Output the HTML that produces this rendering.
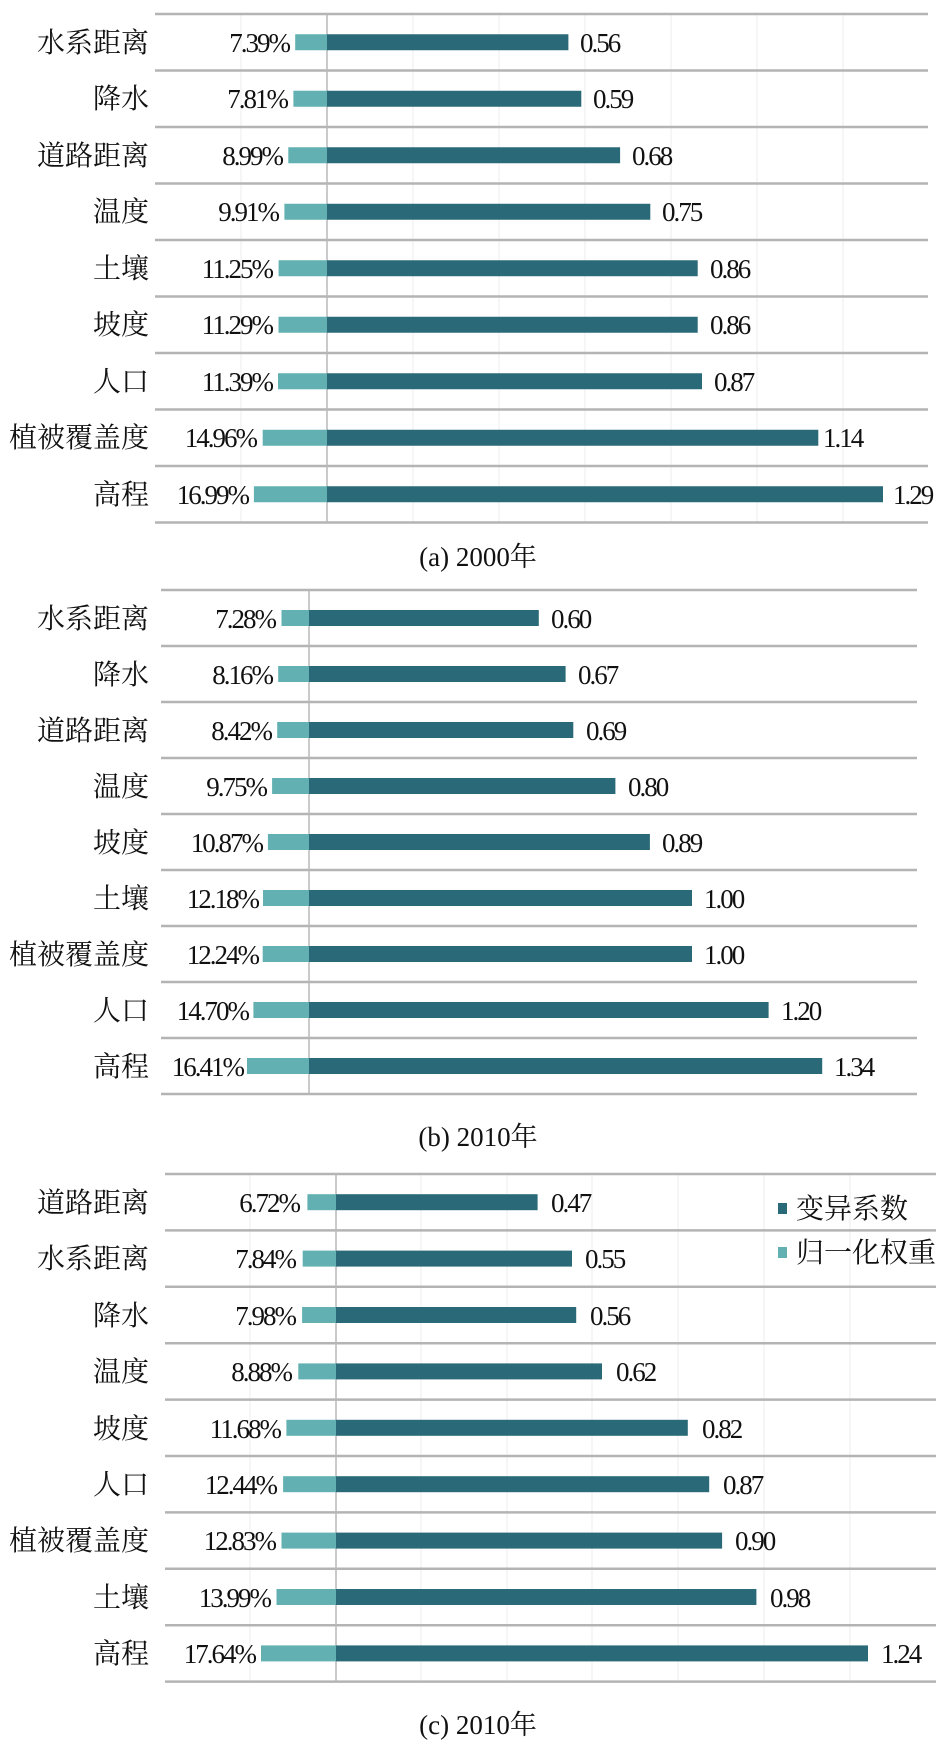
<!DOCTYPE html>
<html><head><meta charset="utf-8"><style>
html,body{margin:0;padding:0;background:#fff}
svg{display:block}
text{font-family:"Liberation Serif","Noto Serif CJK SC",serif;font-size:27px;fill:#111}
.c{font-family:"Liberation Serif","Noto Serif CJK SC",serif;font-size:28px;text-anchor:end}
.p{text-anchor:end;letter-spacing:-2px}
.v{letter-spacing:-2px}
.g{stroke:#b4b4b4;stroke-width:2.5}
.vg{stroke:#ececec;stroke-width:1}
.ax{stroke:#b8b8b8;stroke-width:1.5}
.d{fill:#2a6a78}.l{fill:#62b0b1}
.cap{font-size:27px;text-anchor:middle}
</style></head><body>
<svg width="945" height="1746" viewBox="0 0 945 1746" xmlns="http://www.w3.org/2000/svg">
<!-- Chart A -->
<g>
<line class="vg" x1="241" y1="14" x2="241" y2="522"/><line class="vg" x1="413" y1="14" x2="413" y2="522"/><line class="vg" x1="499" y1="14" x2="499" y2="522"/><line class="vg" x1="585" y1="14" x2="585" y2="522"/><line class="vg" x1="671" y1="14" x2="671" y2="522"/><line class="vg" x1="757" y1="14" x2="757" y2="522"/><line class="vg" x1="843" y1="14" x2="843" y2="522"/>
<line class="g" x1="155" y1="14" x2="928" y2="14"/><line class="g" x1="155" y1="70.5" x2="928" y2="70.5"/><line class="g" x1="155" y1="127" x2="928" y2="127"/><line class="g" x1="155" y1="183.5" x2="928" y2="183.5"/><line class="g" x1="155" y1="240" x2="928" y2="240"/><line class="g" x1="155" y1="296.5" x2="928" y2="296.5"/><line class="g" x1="155" y1="353" x2="928" y2="353"/><line class="g" x1="155" y1="409.5" x2="928" y2="409.5"/><line class="g" x1="155" y1="466" x2="928" y2="466"/><line class="g" x1="155" y1="522.5" x2="928" y2="522.5"/>
<line class="ax" x1="327" y1="14" x2="327" y2="522"/>
<rect class="l" x="295.2" y="34.25" width="31.8" height="16"/><rect class="d" x="327" y="34.25" width="241.4" height="16"/><text class="c" x="149" y="52">水系距离</text><text class="p" x="289" y="52">7.39%</text><text class="v" x="580" y="52">0.56</text>
<rect class="l" x="293.4" y="90.75" width="33.6" height="16"/><rect class="d" x="327" y="90.75" width="254.3" height="16"/><text class="c" x="149" y="108">降水</text><text class="p" x="287" y="108">7.81%</text><text class="v" x="593" y="108">0.59</text>
<rect class="l" x="288.3" y="147.25" width="38.7" height="16"/><rect class="d" x="327" y="147.25" width="293.1" height="16"/><text class="c" x="149" y="165">道路距离</text><text class="p" x="282" y="165">8.99%</text><text class="v" x="632" y="165">0.68</text>
<rect class="l" x="284.4" y="203.75" width="42.6" height="16"/><rect class="d" x="327" y="203.75" width="323.3" height="16"/><text class="c" x="149" y="221">温度</text><text class="p" x="278" y="221">9.91%</text><text class="v" x="662" y="221">0.75</text>
<rect class="l" x="278.6" y="260.25" width="48.4" height="16"/><rect class="d" x="327" y="260.25" width="370.7" height="16"/><text class="c" x="149" y="278">土壤</text><text class="p" x="272" y="278">11.25%</text><text class="v" x="710" y="278">0.86</text>
<rect class="l" x="278.5" y="316.75" width="48.5" height="16"/><rect class="d" x="327" y="316.75" width="370.7" height="16"/><text class="c" x="149" y="334">坡度</text><text class="p" x="272" y="334">11.29%</text><text class="v" x="710" y="334">0.86</text>
<rect class="l" x="278" y="373.25" width="49" height="16"/><rect class="d" x="327" y="373.25" width="375" height="16"/><text class="c" x="149" y="391">人口</text><text class="p" x="272" y="391">11.39%</text><text class="v" x="714" y="391">0.87</text>
<rect class="l" x="262.7" y="429.75" width="64.3" height="16"/><rect class="d" x="327" y="429.75" width="491.3" height="16"/><text class="c" x="149" y="447">植被覆盖度</text><text class="p" x="256" y="447">14.96%</text><text class="v" x="823" y="447">1.14</text>
<rect class="l" x="253.9" y="486.25" width="73.1" height="16"/><rect class="d" x="327" y="486.25" width="556" height="16"/><text class="c" x="149" y="504">高程</text><text class="p" x="248" y="504">16.99%</text><text class="v" x="893" y="504">1.29</text>
<text class="cap" x="478" y="566">(a) 2000年</text>
</g>
<!-- Chart B -->
<g>
<line class="g" x1="161" y1="590" x2="917" y2="590"/><line class="g" x1="161" y1="646" x2="917" y2="646"/><line class="g" x1="161" y1="702" x2="917" y2="702"/><line class="g" x1="161" y1="758" x2="917" y2="758"/><line class="g" x1="161" y1="814" x2="917" y2="814"/><line class="g" x1="161" y1="870" x2="917" y2="870"/><line class="g" x1="161" y1="926" x2="917" y2="926"/><line class="g" x1="161" y1="982" x2="917" y2="982"/><line class="g" x1="161" y1="1038" x2="917" y2="1038"/><line class="g" x1="161" y1="1094" x2="917" y2="1094"/>
<line class="ax" x1="309" y1="590" x2="309" y2="1094"/>
<rect class="l" x="281.5" y="610" width="27.5" height="16"/><rect class="d" x="309" y="610" width="229.8" height="16"/><text class="c" x="149" y="628">水系距离</text><text class="p" x="275" y="628">7.28%</text><text class="v" x="551" y="628">0.60</text>
<rect class="l" x="278.2" y="666" width="30.8" height="16"/><rect class="d" x="309" y="666" width="256.6" height="16"/><text class="c" x="149" y="684">降水</text><text class="p" x="272" y="684">8.16%</text><text class="v" x="578" y="684">0.67</text>
<rect class="l" x="277.2" y="722" width="31.8" height="16"/><rect class="d" x="309" y="722" width="264.3" height="16"/><text class="c" x="149" y="740">道路距离</text><text class="p" x="271" y="740">8.42%</text><text class="v" x="586" y="740">0.69</text>
<rect class="l" x="272.1" y="778" width="36.9" height="16"/><rect class="d" x="309" y="778" width="306.4" height="16"/><text class="c" x="149" y="796">温度</text><text class="p" x="266" y="796">9.75%</text><text class="v" x="628" y="796">0.80</text>
<rect class="l" x="267.9" y="834" width="41.1" height="16"/><rect class="d" x="309" y="834" width="340.9" height="16"/><text class="c" x="149" y="852">坡度</text><text class="p" x="262" y="852">10.87%</text><text class="v" x="662" y="852">0.89</text>
<rect class="l" x="263" y="890" width="46" height="16"/><rect class="d" x="309" y="890" width="383" height="16"/><text class="c" x="149" y="908">土壤</text><text class="p" x="258" y="908">12.18%</text><text class="v" x="704" y="908">1.00</text>
<rect class="l" x="262.7" y="946" width="46.3" height="16"/><rect class="d" x="309" y="946" width="383" height="16"/><text class="c" x="149" y="964">植被覆盖度</text><text class="p" x="258" y="964">12.24%</text><text class="v" x="704" y="964">1.00</text>
<rect class="l" x="253.4" y="1002" width="55.6" height="16"/><rect class="d" x="309" y="1002" width="459.6" height="16"/><text class="c" x="149" y="1020">人口</text><text class="p" x="248" y="1020">14.70%</text><text class="v" x="781" y="1020">1.20</text>
<rect class="l" x="247" y="1058" width="62" height="16"/><rect class="d" x="309" y="1058" width="513.2" height="16"/><text class="c" x="149" y="1076">高程</text><text class="p" x="243" y="1076">16.41%</text><text class="v" x="834" y="1076">1.34</text>
<text class="cap" x="478" y="1146">(b) 2010年</text>
</g>
<!-- Chart C -->
<g>
<line class="vg" x1="250" y1="1174" x2="250" y2="1682"/><line class="vg" x1="421" y1="1174" x2="421" y2="1682"/><line class="vg" x1="507" y1="1174" x2="507" y2="1682"/><line class="vg" x1="592" y1="1174" x2="592" y2="1682"/><line class="vg" x1="678" y1="1174" x2="678" y2="1682"/><line class="vg" x1="764" y1="1174" x2="764" y2="1682"/><line class="vg" x1="850" y1="1174" x2="850" y2="1682"/>
<line class="g" x1="165" y1="1174" x2="936" y2="1174"/><line class="g" x1="165" y1="1230.4" x2="936" y2="1230.4"/><line class="g" x1="165" y1="1286.8" x2="936" y2="1286.8"/><line class="g" x1="165" y1="1343.2" x2="936" y2="1343.2"/><line class="g" x1="165" y1="1399.6" x2="936" y2="1399.6"/><line class="g" x1="165" y1="1456" x2="936" y2="1456"/><line class="g" x1="165" y1="1512.4" x2="936" y2="1512.4"/><line class="g" x1="165" y1="1568.8" x2="936" y2="1568.8"/><line class="g" x1="165" y1="1625.2" x2="936" y2="1625.2"/><line class="g" x1="165" y1="1681.6" x2="936" y2="1681.6"/>
<line class="ax" x1="336" y1="1174" x2="336" y2="1682"/>
<rect class="l" x="307.4" y="1194.2" width="28.6" height="16"/><rect class="d" x="336" y="1194.2" width="201.6" height="16"/><text class="c" x="149" y="1212">道路距离</text><text class="p" x="299" y="1212">6.72%</text><text class="v" x="551" y="1212">0.47</text>
<rect class="l" x="302.7" y="1250.6" width="33.3" height="16"/><rect class="d" x="336" y="1250.6" width="236" height="16"/><text class="c" x="149" y="1268">水系距离</text><text class="p" x="295" y="1268">7.84%</text><text class="v" x="585" y="1268">0.55</text>
<rect class="l" x="302.1" y="1307" width="33.9" height="16"/><rect class="d" x="336" y="1307" width="240.2" height="16"/><text class="c" x="149" y="1325">降水</text><text class="p" x="295" y="1325">7.98%</text><text class="v" x="590" y="1325">0.56</text>
<rect class="l" x="298.3" y="1363.4" width="37.7" height="16"/><rect class="d" x="336" y="1363.4" width="266" height="16"/><text class="c" x="149" y="1381">温度</text><text class="p" x="291" y="1381">8.88%</text><text class="v" x="616" y="1381">0.62</text>
<rect class="l" x="286.4" y="1419.8" width="49.6" height="16"/><rect class="d" x="336" y="1419.8" width="351.8" height="16"/><text class="c" x="149" y="1438">坡度</text><text class="p" x="280" y="1438">11.68%</text><text class="v" x="702" y="1438">0.82</text>
<rect class="l" x="283.1" y="1476.2" width="52.9" height="16"/><rect class="d" x="336" y="1476.2" width="373.2" height="16"/><text class="c" x="149" y="1494">人口</text><text class="p" x="276" y="1494">12.44%</text><text class="v" x="723" y="1494">0.87</text>
<rect class="l" x="281.5" y="1532.6" width="54.5" height="16"/><rect class="d" x="336" y="1532.6" width="386.1" height="16"/><text class="c" x="149" y="1550">植被覆盖度</text><text class="p" x="275" y="1550">12.83%</text><text class="v" x="735" y="1550">0.90</text>
<rect class="l" x="276.5" y="1589" width="59.5" height="16"/><rect class="d" x="336" y="1589" width="420.4" height="16"/><text class="c" x="149" y="1607">土壤</text><text class="p" x="270" y="1607">13.99%</text><text class="v" x="770" y="1607">0.98</text>
<rect class="l" x="261" y="1645.4" width="75" height="16"/><rect class="d" x="336" y="1645.4" width="532" height="16"/><text class="c" x="149" y="1663">高程</text><text class="p" x="255" y="1663">17.64%</text><text class="v" x="881" y="1663">1.24</text>
<rect class="d" x="778" y="1203" width="9" height="11"/><text x="796" y="1218" style="font-size:28px">变异系数</text>
<rect class="l" x="778" y="1247" width="9" height="11"/><text x="796" y="1262" style="font-size:28px">归一化权重</text>
<text class="cap" x="478" y="1734">(c) 2010年</text>
</g>
</svg>
</body></html>
